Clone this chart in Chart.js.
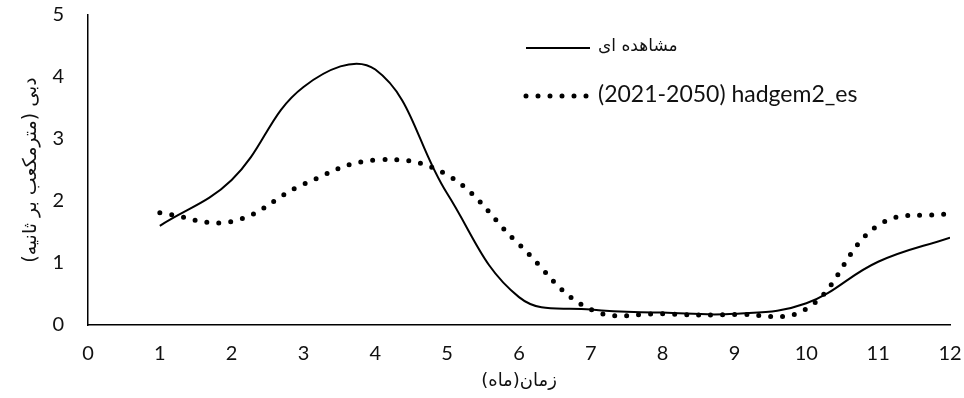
<!DOCTYPE html>
<html>
<head>
<meta charset="utf-8">
<script src="https://cdn.jsdelivr.net/npm/chart.js@4"></script>
<style>
html, body { margin: 0; padding: 0; background: #fff; }
#wrap { width: 964px; height: 398px; }
</style>
</head>
<body>
<div id="wrap"><canvas id="discharge"></canvas></div>
<script>
// monthly discharge
var months = [1, 2, 3, 4, 5, 6, 7, 8, 9, 10, 11, 12];
var observed = [1.6, 2.34, 3.84, 4.12, 2.12, 0.45, 0.25, 0.2, 0.18, 0.35, 1.02, 1.41];
var hadgem = [1.81, 1.67, 2.27, 2.66, 2.42, 1.3, 0.25, 0.18, 0.17, 0.26, 1.61, 1.8];
var xRange = [0, 12];
var yRange = [0, 5];

var latin = "Lato, 'DejaVu Sans', sans-serif";
var persian = "'DejaVu Sans', sans-serif";

function points(ys) {
    return months.map(function (m, i) { return { x: m, y: ys[i] }; });
}

// legend drawn inside the plot, top right
var insideLegend = {
    id: 'insideLegend',
    afterDatasetsDraw: function (chart) {
        var ctx = chart.ctx;
        var rows = [48, 96];
        var fonts = ['17px ' + persian, '23px ' + latin];
        var x0 = 526, x1 = 590;
        chart.data.datasets.forEach(function (ds, i) {
            var y = rows[i];
            ctx.save();
            ctx.strokeStyle = ds.borderColor;
            ctx.lineWidth = ds.borderWidth;
            ctx.lineCap = ds.borderCapStyle || 'butt';
            ctx.setLineDash(ds.borderDash || []);
            ctx.beginPath();
            ctx.moveTo(x0, y);
            ctx.lineTo(x1, y);
            ctx.stroke();
            ctx.setLineDash([]);
            ctx.fillStyle = '#111';
            ctx.font = fonts[i];
            ctx.textAlign = 'left';
            ctx.textBaseline = 'middle';
            ctx.fillText(ds.label, x1 + 8, y - 1);
            ctx.restore();
        });
    }
};

new Chart(document.getElementById("discharge"), {
    type: 'line',
    data: {
        datasets: [{
            label: "مشاهده ای",
            data: points(observed),
            borderColor: "#000",
            borderWidth: 2,
            tension: 0.4,
            pointRadius: 0,
            fill: false
        }, {
            label: "(2021-2050) hadgem2_es",
            data: points(hadgem),
            borderColor: "#000",
            borderWidth: 5,
            borderDash: [0, 12],
            borderCapStyle: 'round',
            tension: 0.4,
            pointRadius: 0,
            fill: false
        }]
    },
    options: {
        responsive: true,
        maintainAspectRatio: false,
        animation: false,
        layout: { padding: { top: 0, right: 0, left: 4, bottom: 0 } },
        plugins: {
            legend: { display: false },
            tooltip: { enabled: false }
        },
        scales: {
            x: {
                type: 'linear',
                min: xRange[0],
                max: xRange[1],
                afterFit: function (s) { s.height = 73; s.paddingRight = 14; s.paddingLeft = 0; },
                ticks: { stepSize: 1, color: '#111', font: { size: 20, family: latin }, padding: 17 },
                grid: { display: false, drawTicks: false },
                border: { display: true, color: '#000', width: 1.5 },
                title: {
                    display: true,
                    text: 'زمان(ماه)',
                    color: '#111',
                    font: { size: 18, family: persian },
                    padding: { top: 0, bottom: 6 }
                }
            },
            y: {
                min: yRange[0],
                max: yRange[1],
                afterFit: function (s) { s.width = 84; s.paddingTop = 15; s.paddingBottom = 0; },
                ticks: { stepSize: 1, color: '#111', font: { size: 20, family: latin }, padding: 24 },
                grid: { display: false, drawTicks: false },
                border: { display: true, color: '#000', width: 1.5 },
                title: {
                    display: true,
                    text: 'دبی (مترمکعب بر ثانیه)',
                    color: '#111',
                    font: { size: 19, family: persian },
                    padding: { top: 16, bottom: 0 }
                }
            }
        }
    },
    plugins: [insideLegend]
});
</script>
</body>
</html>
